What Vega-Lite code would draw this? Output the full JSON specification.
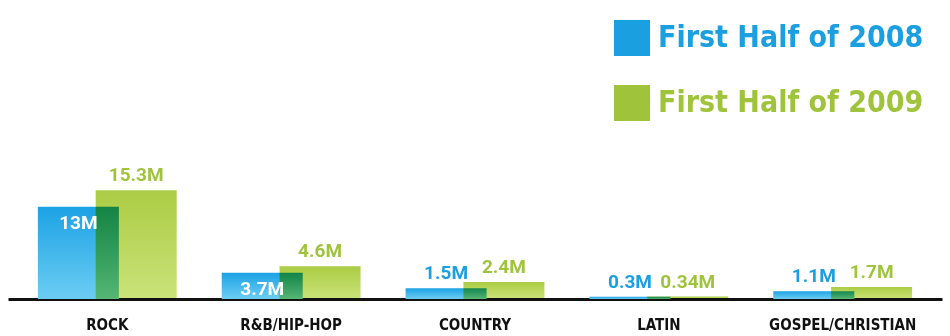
{
  "$schema": "https://vega.github.io/schema/vega-lite/v6.json",
  "width": 934,
  "height": 289,
  "autosize": {"type": "none"},
  "padding": {"left": 8, "top": 10, "right": 8, "bottom": 37},
  "background": "white",
  "config": {"view": {"stroke": null}},
  "data": {"values": [
    {"genre": "ROCK", "year": "2008", "value": 13, "label": "13M"},
    {"genre": "ROCK", "year": "2009", "value": 15.3, "label": "15.3M"},
    {"genre": "R&B/HIP-HOP", "year": "2008", "value": 3.7, "label": "3.7M"},
    {"genre": "R&B/HIP-HOP", "year": "2009", "value": 4.6, "label": "4.6M"},
    {"genre": "COUNTRY", "year": "2008", "value": 1.5, "label": "1.5M"},
    {"genre": "COUNTRY", "year": "2009", "value": 2.4, "label": "2.4M"},
    {"genre": "LATIN", "year": "2008", "value": 0.3, "label": "0.3M"},
    {"genre": "LATIN", "year": "2009", "value": 0.34, "label": "0.34M"},
    {"genre": "GOSPEL/CHRISTIAN", "year": "2008", "value": 1.1, "label": "1.1M"},
    {"genre": "GOSPEL/CHRISTIAN", "year": "2009", "value": 1.7, "label": "1.7M"}
  ]},
  "encoding": {
    "x": {
      "field": "genre", "type": "nominal", "sort": null,
      "scale": {"paddingInner": 0, "paddingOuter": 0.04},
      "axis": {
        "title": null, "orient": "bottom", "domainColor": "#111111", "domainWidth": 3,
        "ticks": false, "grid": false, "labelAngle": 0,
        "labelFont": "DejaVu Sans Condensed", "labelFontWeight": "bold", "labelFontSize": 15,
        "labelColor": "#111111", "labelPadding": 18
      }
    },
    "xOffset": {"field": "year", "type": "nominal", "scale": {"paddingInner": 0, "paddingOuter": 0.59}},
    "y": {"field": "value", "type": "quantitative", "scale": {"domain": [0, 40.7]}, "axis": null}
  },
  "layer": [
    {
      "transform": [{"filter": "datum.year == '2008'"}],
      "mark": {"type": "bar", "width": 81, "color": {"gradient": "linear", "x1": 0, "y1": 1, "x2": 0, "y2": 0,
        "stops": [{"offset": 0, "color": "#6ccdf3"}, {"offset": 1, "color": "#1ca2e4"}]}}
    },
    {
      "transform": [{"filter": "datum.year == '2009'"}],
      "mark": {"type": "bar", "width": 81, "blend": "multiply", "color": {"gradient": "linear", "x1": 0, "y1": 1, "x2": 0, "y2": 0,
        "stops": [{"offset": 0, "color": "#cbe37a"}, {"offset": 1, "color": "#abcc44"}]}}
    },
    {
      "transform": [{"filter": "datum.year == '2009' || datum.value < 3"}],
      "mark": {"type": "text", "font": "Roboto", "fontWeight": "bold", "fontSize": 19, "baseline": "alphabetic", "dy": -9},
      "encoding": {
        "text": {"field": "label"},
        "color": {
          "field": "year", "type": "nominal",
          "scale": {"domain": ["2008", "2009"], "range": ["#1a9fe0", "#9fc43c"]},
          "legend": {
            "orient": "none", "legendX": 606, "legendY": 10, "title": null, "padding": 0,
            "symbolType": "square", "symbolSize": 1296, "symbolStrokeWidth": 0, "symbolOpacity": 1,
            "labelFont": "DejaVu Sans Condensed", "labelFontWeight": "bold", "labelFontSize": 30,
            "labelOffset": 8, "rowPadding": 29, "labelLimit": 400,
            "labelExpr": "'First Half of ' + datum.label",
            "labelColor": {"expr": "datum.value == '2008' ? '#1a9fe0' : '#9fc43c'"}
          }
        }
      }
    },
    {
      "transform": [{"filter": "datum.year == '2008' && datum.value >= 3"}],
      "mark": {"type": "text", "font": "Roboto", "fontWeight": "bold", "fontSize": 19, "baseline": "alphabetic", "dy": 22, "color": "white"},
      "encoding": {"text": {"field": "label"}}
    }
  ]
}
